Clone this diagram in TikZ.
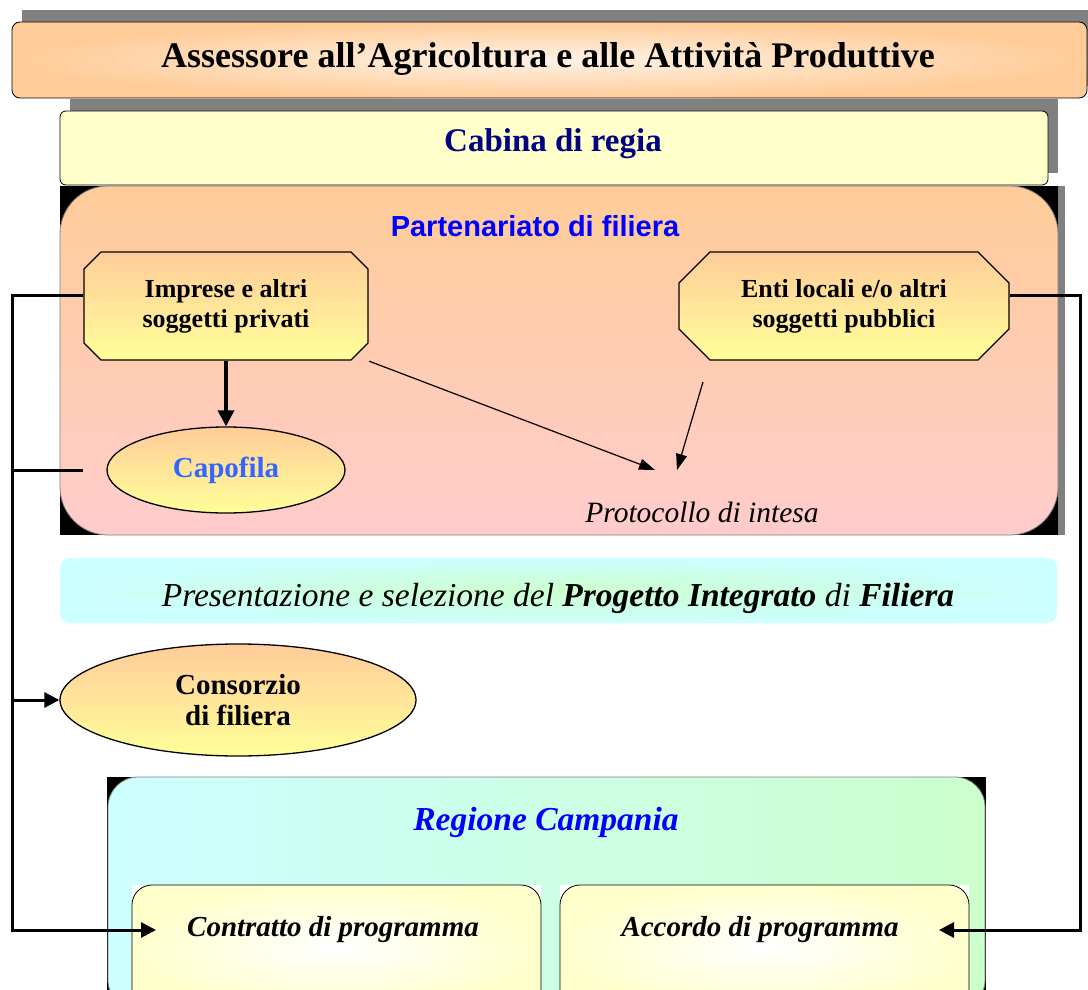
\documentclass[tikz,border=0pt]{standalone}
\usepackage{fontspec}
\setmainfont{Liberation Serif}
\setsansfont{Liberation Sans}
\usepackage{tikz}
\usetikzlibrary{shapes.geometric,positioning,calc,arrows.meta,backgrounds}
\definecolor{pesca}{HTML}{FFCC99}
\definecolor{giallo}{HTML}{FFFF99}
\definecolor{crema}{HTML}{FFFFCC}
\definecolor{rosa}{HTML}{FFCCCC}
\definecolor{ciano}{HTML}{CCFFFF}
\definecolor{verde}{HTML}{CCFFCC}
\definecolor{grigio}{HTML}{808080}
\definecolor{blu}{HTML}{0000FF}
\definecolor{bluscuro}{HTML}{000080}
\definecolor{azzurro}{HTML}{3366FF}
\tikzset{
	testata/.style={draw=black, line width=0.8pt, rounded corners=8pt, inner sep=0pt},
	% ottagono: il parametro e' lo smusso degli angoli
	ottagono/.style={rectangle, align=center, inner sep=0pt, font=\bfseries\fontsize{26}{30}\selectfont,
		path picture={
		\draw[line width=1.3pt, top color=pesca, bottom color=giallo]
		([shift={(#1,1)}]path picture bounding box.north west) -- ([shift={(-#1,1)}]path picture bounding box.north east)
		-- ([shift={(-1,#1)}]path picture bounding box.north east) -- ([shift={(-1,-#1)}]path picture bounding box.south east)
		-- ([shift={(-#1,-1)}]path picture bounding box.south east) -- ([shift={(#1,-1)}]path picture bounding box.south west)
		-- ([shift={(1,-#1)}]path picture bounding box.south west) -- ([shift={(1,#1)}]path picture bounding box.north west) -- cycle;}},
	ovale/.style={ellipse, draw=black, line width=1.3pt, top color=pesca, bottom color=giallo, align=center, inner sep=0pt, font=\bfseries\fontsize{29}{31}\selectfont},
	interno/.style={minimum width=409pt, minimum height=125pt, inner sep=0pt},
	riquadro/.style={interno, draw=black, line width=0.8pt, rounded corners=20pt, inner color=white, outer color=crema},
	bus/.style={line width=3pt},
	punta/.style={-{Triangle[length=15pt,width=15pt]}},
	freccia/.style={line width=1.2pt, -{Triangle[length=16pt,width=11pt]}}
}
\begin{document}
\begin{tikzpicture}[x=1pt,y=-1pt]
\useasboundingbox (0,0) rectangle (1088,990);
\clip (0,0) rectangle (1088,990);

%Testate in alto
\node[testata, minimum width=1075pt, minimum height=76pt, inner color=white!75!pesca, outer color=pesca] (ass) at (549.5,60) {};
\node[font=\bfseries\fontsize{36}{40}\selectfont] (asstit) at (548,59) {Assessore all’Agricoltura e alle Attività Produttive};
\node[testata, rounded corners=6pt, minimum width=988pt, minimum height=74pt, fill=crema] (cab) at (554,148) {};
\node[font=\bfseries\fontsize{33}{36}\selectfont, text=bluscuro] (cabtit) at (553,144) {Cabina di regia};

%Partenariato
\node[draw=grigio, line width=0.8pt, rounded corners=48pt, minimum width=998pt, minimum height=349pt,
	top color=pesca, bottom color=rosa] (par) at (559,360.5) {};
\node[font=\sffamily\bfseries\fontsize{29}{32}\selectfont, text=blu] (partit) at (535,226) {Partenariato di filiera};

\node[ottagono=18, minimum width=286pt, minimum height=110pt] (imp) at (226,306) {Imprese e altri\\soggetti privati};
\node[ottagono=32, minimum width=332pt, minimum height=110pt] (enti) at (844,306) {Enti locali e/o altri\\soggetti pubblici};
\node[ovale, minimum width=238pt, minimum height=86pt, text=azzurro] (cap) at (226,470) {Capofila};
\node[font=\itshape\fontsize{29.5}{32}\selectfont] (prot) at (702,512) {Protocollo di intesa};

\coordinate (p1) at (655,470);
\coordinate (p2) at (677,470);
\coordinate (e1) at (703,382);
\draw[line width=3.5pt, -{Triangle[length=16pt,width=16pt]}] (imp.south) -- (cap.north);
\draw[freccia] (imp.south east) -- (p1);
\draw[freccia] (e1) -- (p2);

%Presentazione
\node[rounded corners=10pt, minimum width=997pt, minimum height=65pt, inner color=verde, outer color=ciano] (pres) at (558.5,590.5) {};
\node[font=\itshape\fontsize{33.5}{36}\selectfont] (prestit) at (558,598)
	{Presentazione e selezione del \textbf{Progetto Integrato} di \textbf{Filiera}};

\node[ovale, minimum width=356pt, minimum height=112pt] (cons) at (238,700) {Consorzio\\di filiera};

%Regione Campania
\node[fill=black, minimum width=879pt, minimum height=233pt] (regfondo) at (546.5,893.5) {};
\node[draw=grigio, line width=0.8pt, rounded corners=30pt, minimum width=877pt, minimum height=233pt,
	left color=ciano, right color=verde] (reg) at (regfondo) {};
\node[font=\bfseries\itshape\fontsize{33.5}{36}\selectfont, text=blu] (regtit) at (546,822) {Regione Campania};

\node[interno, fill=white] (cfondo) at (336.5,947.5) {};
\node[riquadro] (cbox) at (cfondo) {};
\node[interno, fill=white] (afondo) at (764.5,947.5) {};
\node[riquadro] (abox) at (afondo) {};
\node[font=\bfseries\itshape\fontsize{29}{32}\selectfont] (ctext) at (333,930) {Contratto di programma};
\node[font=\bfseries\itshape\fontsize{29}{32}\selectfont] (atext) at (760,930) {Accordo di programma};

%Collegamenti laterali
\coordinate (lt) at ($(imp.west)+(-70,-11)$);
\coordinate (rt) at ($(enti.east)+(70,-11)$);
\coordinate (cpunta) at (156,930);
\coordinate (apunta) at (939,930);
\draw[bus, punta] ([yshift=11pt]imp.west) -- (lt) |- (cpunta);
\draw[bus] (lt |- cap) -- (imp.west |- cap);
\draw[bus, punta] (lt |- cons) -- (cons.west);
\draw[bus, punta] ([yshift=11pt]enti.east) -- (rt) |- (apunta);

%Ombre
\begin{scope}[on background layer]
\fill[grigio] ([shift={(10,-12)}]ass.north west) rectangle ([shift={(10,-12)}]ass.south east);
\fill[grigio] ([shift={(10,-12)}]cab.north west) rectangle ([shift={(10,-12)}]cab.south east);
\fill[grigio] ([xshift=7pt]par.north west) rectangle ([xshift=7pt]par.south east);
\fill[black] (par.north west) rectangle (par.south east);
\end{scope}
\end{tikzpicture}
\end{document}
